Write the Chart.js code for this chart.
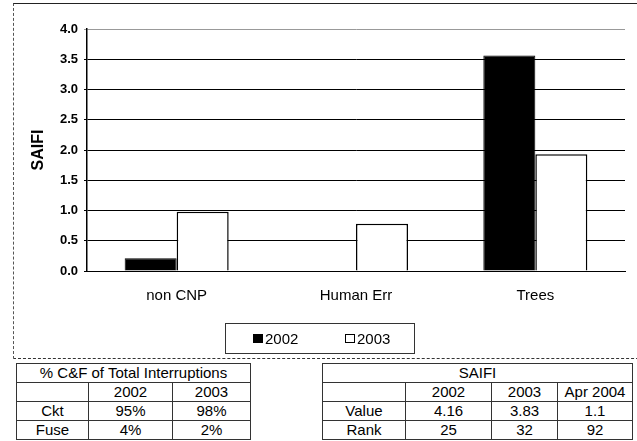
<!DOCTYPE html>
<html>
<head>
<meta charset="utf-8">
<script src="https://cdn.jsdelivr.net/npm/chart.js@4/dist/chart.umd.min.js"></script>
<style>
    body { margin: 0; background: #fff; font-family: "Liberation Sans", Arial, sans-serif; }
    #page { position: relative; width: 637px; height: 441px; overflow: hidden; background: #fff; }
    #frame {
        position: absolute; left: 13px; top: 3px; width: 640px; height: 354px;
        border-top: 1px solid #222; border-left: 1px dashed #555; border-bottom: 1px dashed #333;
    }
    #chartBox { position: absolute; left: 14px; top: 4px; width: 623px; height: 354px; }
    #legend {
        position: absolute; left: 225px; top: 323px; width: 188px; height: 29px;
        border: 1px solid #333; font-size: 15px; color: #000;
    }
    #legend .item { position: absolute; top: 6px; white-space: nowrap; line-height: 17px; }
    #legend .sw { display: inline-block; width: 8px; height: 7px; border: 1px solid #000; margin-right: 2px; vertical-align: 1px; }
    table { position: absolute; border-collapse: collapse; font-size: 15px; color: #000; }
    td { border: 1px solid #333; text-align: center; height: 18px; padding: 0; line-height: 18px; }
    #t1 { left: 16px; top: 363px; }
    #t2 { left: 322px; top: 363px; }
</style>
</head>
<body>
<div id="page">
    <div id="frame"></div>
    <div id="chartBox"><canvas id="saifiChart"></canvas></div>
    <div id="legend"></div>
    <table id="t1"></table>
    <table id="t2"></table>
</div>
<script>
// Dados do gráfico
const categories = ['non CNP', 'Human Err', 'Trees'];
const saifi2002 = [0.21, 0, 3.56];
const saifi2003 = [0.98, 0.78, 1.93];
const yTicks = [0, 0.5, 1.0, 1.5, 2.0, 2.5, 3.0, 3.5, 4.0];

// Dados das tabelas
const cfTitle = '% C&F of Total Interruptions';
const cfYears = ['2002', '2003'];
const cfRows = [['Ckt', '95%', '98%'], ['Fuse', '4%', '2%']];
const saifiTitle = 'SAIFI';
const saifiYears = ['2002', '2003', 'Apr 2004'];
const saifiRows = [['Value', '4.16', '3.83', '1.1'], ['Rank', '25', '32', '92']];

const FONT = '"Liberation Sans", Arial, sans-serif';

// Monta uma tabela simples
function buildTable(id, title, years, rows, widths) {
    const t = document.getElementById(id);
    let html = `<tr><td colspan="${years.length + 1}">${title}</td></tr>`;
    html += '<tr><td style="width:' + widths[0] + 'px"></td>' +
        years.map((y, i) => `<td style="width:${widths[i + 1]}px">${y}</td>`).join('') + '</tr>';
    rows.forEach(r => { html += '<tr>' + r.map(c => `<td>${c}</td>`).join('') + '</tr>'; });
    t.innerHTML = html;
}
buildTable('t1', cfTitle, cfYears, cfRows, [71, 83, 77]);
buildTable('t2', saifiTitle, saifiYears, saifiRows, [82, 85, 65, 74]);

const chart = new Chart(document.getElementById('saifiChart'), {
    type: 'bar',
    data: {
        labels: categories,
        datasets: [
            { label: '2002', data: saifi2002, backgroundColor: '#000', borderColor: '#000', borderWidth: 1 },
            { label: '2003', data: saifi2003, backgroundColor: '#fff', borderColor: '#000', borderWidth: 1.5 }
        ]
    },
    options: {
        responsive: true,
        maintainAspectRatio: false,
        animation: false,
        categoryPercentage: 0.58,
        barPercentage: 1.0,
        layout: { padding: { left: 0, right: 12, top: 25, bottom: 47 } },
        plugins: {
            legend: { display: false },
            tooltip: { enabled: false }
        },
        scales: {
            x: {
                grid: { display: false, drawTicks: false },
                border: { display: true, color: '#000', width: 1 },
                ticks: { color: '#000', font: { family: FONT, size: 15 }, padding: 16 },
                afterFit: s => { s.height = 40; }
            },
            y: {
                min: 0, max: 4,
                afterBuildTicks: s => { s.ticks = yTicks.map(v => ({ value: v })); },
                grid: {
                    color: ctx => (ctx.tick && ctx.tick.value === 4 ? '#999' : '#000'),
                    lineWidth: 1,
                    tickLength: 3
                },
                border: { display: true, color: '#000', width: 1.5 },
                ticks: {
                    color: '#000', padding: 6,
                    font: { family: FONT, size: 13, weight: 'bold' },
                    callback: v => v.toFixed(1)
                },
                title: {
                    display: true, text: 'SAIFI', color: '#000',
                    font: { family: FONT, size: 16, weight: 'bold' },
                    padding: { top: 15, bottom: 0 }
                },
                afterFit: s => { s.width = 73; }
            }
        }
    }
});

// Legenda em HTML a partir dos datasets
const legendEl = document.getElementById('legend');
const legendPos = [27, 119];
chart.data.datasets.forEach((ds, i) => {
    const item = document.createElement('div');
    item.className = 'item';
    item.style.left = legendPos[i] + 'px';
    item.innerHTML = `<span class="sw" style="background:${ds.backgroundColor}"></span>${ds.label}`;
    legendEl.appendChild(item);
});
</script>
</body>
</html>
